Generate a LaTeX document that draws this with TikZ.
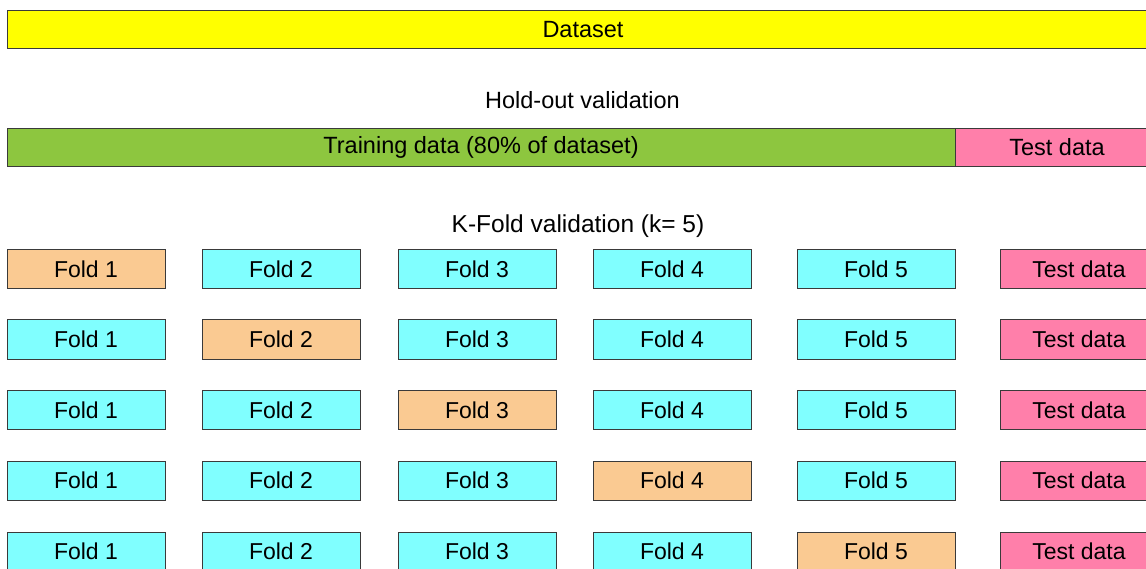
\documentclass[tikz,border=0pt]{standalone}
\usepackage{fontspec}
\setmainfont{Liberation Sans}
\definecolor{boxline}{HTML}{3A3A3A}
\definecolor{dataY}{HTML}{FFFF00}
\definecolor{trainG}{HTML}{8DC63F}
\definecolor{testP}{HTML}{FF7FAA}
\definecolor{foldOn}{HTML}{FACA92}
\definecolor{foldOff}{HTML}{80FFFF}
\begin{document}
\begin{tikzpicture}[x=1pt,y=-1pt,
  box/.style={draw=boxline, line width=1pt, minimum height=38pt, inner sep=0pt,
    font=\fontsize{23.5}{27}\selectfont},
  fold/.style={box, minimum width=158pt, minimum height=39pt, font=\fontsize{23}{27}\selectfont},
  lbl/.style={font=\fontsize{23.5}{27}\selectfont, inner sep=0pt}]
\clip (0,0) rectangle (1146,569);
\fill[white] (0,0) rectangle (1146,569);
\node[box, fill=dataY, minimum width=1152pt] (dataset) at (583,29.5) {Dataset};
\node[lbl] (holdout) at (582.5,100.5) {Hold-out validation};
\node[box, fill=trainG, minimum width=948pt] (train) at (481,147.5) {Training data (80\% of dataset)};
\node[box, fill=testP, minimum width=204pt] (test) at (1057,147.5) {Test data};
\node[lbl, font=\fontsize{24.5}{28}\selectfont] (kfold) at (578,226.5) {K-Fold validation (k= 5)};
\foreach \r/\y in {1/269,2/339.5,3/410,4/480.5,5/551.5}{
  \foreach \c/\x in {1/86,2/281,3/477,4/672,5/876}{
    \ifnum\c=\r \def\fc{foldOn}\else\def\fc{foldOff}\fi
    \node[fold, fill=\fc] (f\r\c) at (\x,\y) {Fold \c};
  }
  \node[fold, fill=testP] (t\r) at (1079,\y) {Test data};
}
\end{tikzpicture}
\end{document}
